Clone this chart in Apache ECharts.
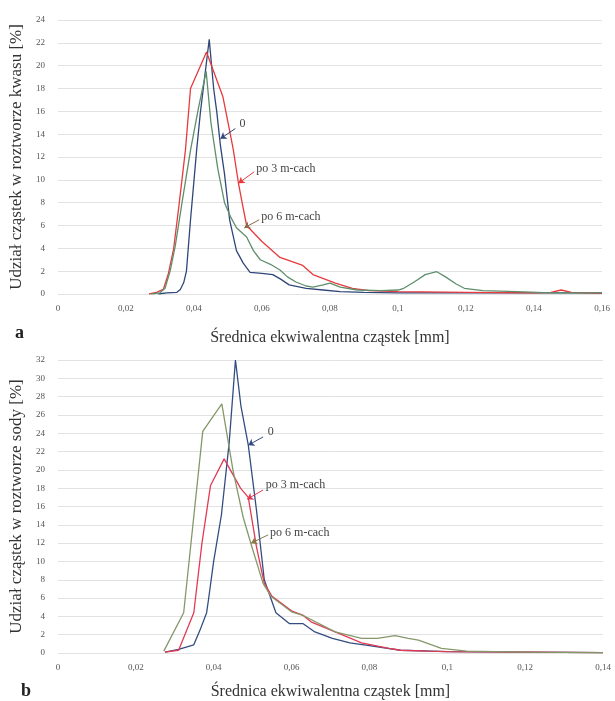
<!DOCTYPE html>
<html><head><meta charset="utf-8">
<script src="https://cdn.jsdelivr.net/npm/echarts@6/dist/echarts.min.js"></script>
<style>html,body{margin:0;padding:0;background:#fff}#c{width:615px;height:701px}</style>
</head><body><div id="c"></div>
<script>
// ---- Chart a (kwas) ----
const aX0 = [0.0295,0.032,0.035,0.036,0.037,0.0378,0.039,0.0408,0.0419,0.0445,0.0458,0.0467,0.0478,0.049,0.0505,0.0525,0.0545,0.0565,0.060,0.0632,0.0655,0.068,0.073,0.078,0.083,0.090,0.100,0.120,0.140,0.160];
const aY0 = [0,0.1,0.15,0.4,1.0,2.0,6.5,12.6,15.9,22.3,18,16,13,10.5,6.5,3.8,2.7,1.9,1.8,1.7,1.3,0.8,0.5,0.35,0.2,0.15,0.1,0.1,0.1,0.1];
const aX3 = [0.0268,0.029,0.031,0.0325,0.034,0.0355,0.0375,0.039,0.0437,0.0485,0.0507,0.0516,0.0531,0.0545,0.0555,0.060,0.0653,0.072,0.075,0.0816,0.0866,0.0915,0.100,0.120,0.140,0.145,0.148,0.151,0.160];
const aY3 = [0,0.15,0.4,1.8,3.9,7.5,12.6,18,21.2,17.3,14,12.6,9.7,7.5,6.0,4.6,3.2,2.5,1.7,0.95,0.5,0.3,0.2,0.15,0.1,0.15,0.35,0.15,0.05];
const aX6 = [0.0275,0.030,0.0315,0.033,0.0345,0.0365,0.039,0.0414,0.0436,0.045,0.047,0.049,0.0507,0.0525,0.0555,0.0575,0.0595,0.0625,0.0653,0.0675,0.070,0.073,0.075,0.078,0.080,0.083,0.088,0.095,0.100,0.1017,0.105,0.108,0.1114,0.114,0.117,0.1195,0.125,0.135,0.145,0.160];
const aY6 = [0,0.1,0.5,2.0,4.2,8,12.6,16.4,19.5,15,11,8,6.8,5.8,5.0,3.8,3.0,2.6,2.1,1.5,1.05,0.7,0.6,0.8,0.95,0.6,0.35,0.3,0.35,0.5,1.1,1.7,1.95,1.5,0.9,0.5,0.3,0.2,0.1,0.1];
// ---- Chart b (soda) ----
const bX0 = [0.0275,0.031,0.0349,0.0365,0.0382,0.0387,0.040,0.042,0.044,0.0456,0.047,0.0489,0.051,0.053,0.056,0.0595,0.063,0.066,0.0705,0.075,0.080,0.088,0.100,0.120,0.140];
const bY0 = [0.1,0.4,0.9,2.5,4.4,5.9,10,15.1,23,32,27,22.7,15.6,8.0,4.4,3.2,3.2,2.3,1.6,1.1,0.8,0.3,0.15,0.1,0.05];
const bX3 = [0.0275,0.031,0.0349,0.037,0.0392,0.0427,0.0469,0.0489,0.051,0.053,0.055,0.060,0.063,0.065,0.0712,0.078,0.085,0.088,0.095,0.100,0.120,0.140];
const bY3 = [0.1,0.3,4.4,12,18.3,21.2,18,17,11.6,7.6,6.2,4.6,4.1,3.4,2.3,1.1,0.5,0.3,0.2,0.15,0.1,0.05];
const bX6 = [0.0272,0.0323,0.0372,0.0421,0.045,0.0476,0.0496,0.0527,0.0547,0.060,0.063,0.0712,0.078,0.082,0.0866,0.090,0.0926,0.0985,0.105,0.120,0.140];
const bY6 = [0.2,4.4,24.2,27.2,19.9,14.8,11.9,7.6,6.2,4.5,4.1,2.3,1.6,1.6,1.9,1.6,1.4,0.5,0.2,0.1,0.05];

const seriesNames = ['0','po 3 m-cach','po 6 m-cach'];
const colors = ['#2f4778','#e63a3c','#5f8e6c'];
const colorsB = ['#344d80','#e23a55','#86986a'];

const zip = (xs, ys) => xs.map((x, i) => [x, ys[i]]);
const fmt = v => String(+v.toFixed(2)).replace('.', ',');
const serif = 'Liberation Serif';

function ann(text, lx, ly, sx, sy, ex, ey, col) {
  return {
    markLine: {
      silent: true, animation: false,
      symbol: ['none', 'arrow'], symbolSize: 6,
      lineStyle: { color: col, width: 1, type: 'solid' },
      label: { show: false },
      data: [[{ coord: [sx, sy] }, { coord: [ex, ey] }]]
    },
    markPoint: {
      silent: true, animation: false,
      symbol: 'circle', symbolSize: 0,
      label: { show: true, position: 'right', distance: 0, formatter: text, color: '#444', fontFamily: serif, fontSize: 12 },
      data: [{ coord: [lx, ly] }]
    }
  };
}

function line(name, data, col, xi, extra) {
  return Object.assign({
    type: 'line', name, data, xAxisIndex: xi, yAxisIndex: xi,
    showSymbol: false, symbol: 'none', smooth: false, animation: false,
    lineStyle: { color: col, width: 1.3 }, itemStyle: { color: col }
  }, extra);
}

const axisLabelX = { color: '#555', fontFamily: serif, fontSize: 9, margin: 10 };
const axisLabelY = { color: '#555', fontFamily: serif, fontSize: 9, margin: 13 };
const splitLine = { show: true, lineStyle: { color: '#e2e2e2', width: 1 } };
const nameStyle = { color: '#333', fontFamily: serif, fontSize: 16 };
const nameStyleY = { color: '#333', fontFamily: serif, fontSize: 17 };

const chart = echarts.init(document.getElementById('c'), null, { renderer: 'canvas' });
chart.setOption({
  backgroundColor: '#fff',
  animation: false,
  grid: [
    { left: 55, top: 20, width: 547, height: 274 },
    { left: 55, top: 360, width: 548, height: 298 }
  ],
  xAxis: [
    { type: 'value', gridIndex: 0, min: 0, max: 0.16, interval: 0.02,
      axisLine: { show: false }, axisTick: { show: false }, splitLine: { show: false },
      axisLabel: Object.assign({ formatter: fmt }, axisLabelX),
      name: 'Średnica ekwiwalentna cząstek [mm]', nameLocation: 'middle', nameGap: 36, nameTextStyle: nameStyle },
    { type: 'value', gridIndex: 1, min: 0, max: 0.14, interval: 0.02,
      axisLine: { show: false }, axisTick: { show: false }, splitLine: { show: false },
      axisLabel: Object.assign({ formatter: fmt }, axisLabelX),
      name: 'Średnica ekwiwalentna cząstek [mm]', nameLocation: 'middle', nameGap: 31, nameTextStyle: nameStyle }
  ],
  yAxis: [
    { type: 'value', gridIndex: 0, min: 0, max: 24, interval: 2,
      axisLine: { show: false }, axisTick: { show: false }, splitLine,
      axisLabel: axisLabelY,
      name: 'Udział cząstek w roztworze kwasu [%]', nameLocation: 'middle', nameGap: 32, nameRotate: 90, nameTextStyle: nameStyleY },
    { type: 'value', gridIndex: 1, min: 0, max: 32, interval: 2,
      axisLine: { show: false }, axisTick: { show: false }, splitLine,
      axisLabel: axisLabelY,
      name: 'Udział cząstek w roztworze sody [%]', nameLocation: 'middle', nameGap: 32, nameRotate: 90, nameTextStyle: nameStyleY }
  ],
  graphic: [
    { type: 'text', left: 15, top: 324, style: { text: 'a', font: 'bold 18px "Liberation Serif"', fill: '#222' } },
    { type: 'text', left: 21, top: 682, style: { text: 'b', font: 'bold 18px "Liberation Serif"', fill: '#222' } }
  ],
  series: [
    line(seriesNames[0], zip(aX0, aY0), colors[0], 0, ann('0', 0.0534, 14.9, 0.0522, 14.5, 0.0478, 13.6, colors[0])),
    line(seriesNames[1], zip(aX3, aY3), colors[1], 0, ann('po 3 m-cach', 0.0583, 11.0, 0.0577, 10.7, 0.0531, 9.7, colors[1])),
    line(seriesNames[2], zip(aX6, aY6), colors[2], 0, ann('po 6 m-cach', 0.0598, 6.8, 0.0592, 6.5, 0.0548, 5.8, '#8a6a4a')),
    line(seriesNames[0], zip(bX0, bY0), colorsB[0], 1, ann('0', 0.0539, 24.2, 0.0527, 23.6, 0.0489, 22.7, colorsB[0])),
    line(seriesNames[1], zip(bX3, bY3), colorsB[1], 1, ann('po 3 m-cach', 0.0534, 18.4, 0.0527, 17.8, 0.0486, 16.8, colorsB[1])),
    line(seriesNames[2], zip(bX6, bY6), colorsB[2], 1, ann('po 6 m-cach', 0.0545, 13.1, 0.054, 12.9, 0.0496, 12.0, '#8a7a4a'))
  ]
});
</script>
</body></html>
